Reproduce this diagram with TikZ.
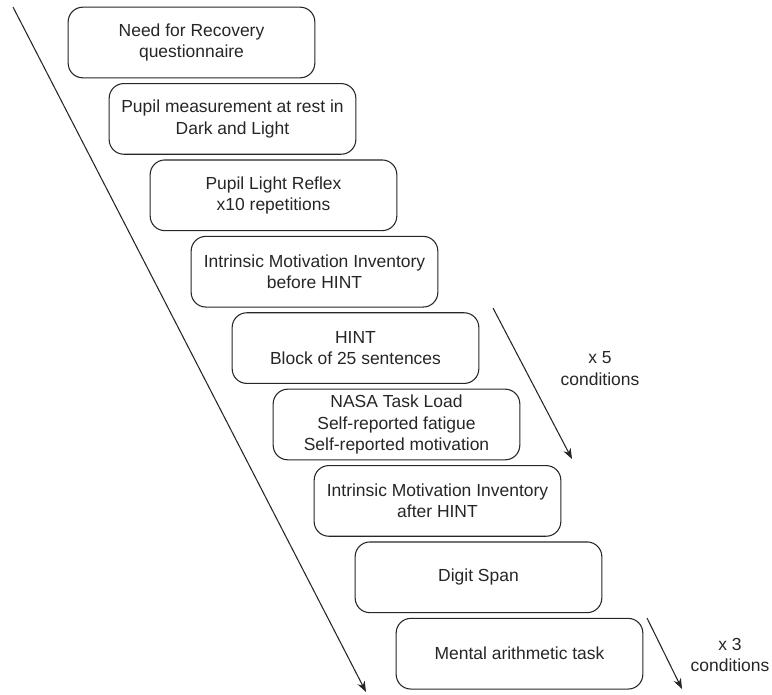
\documentclass[tikz,border=0pt]{standalone}
\usepackage{fontspec}
\setmainfont{Liberation Sans}
\usetikzlibrary{arrows.meta}

\tikzset{
  paso/.style={draw=black!85, line width=0.8pt, rounded corners=11pt,
    minimum width=185pt, minimum height=53pt, inner sep=0pt, align=center,
    text=black!85, font=\fontsize{13.1}{16.1}\selectfont},
  flecha/.style={draw=black!85, line width=0.8pt, -{Stealth[length=8pt,width=6pt]}},
  nota/.style={align=center, text=black!85, font=\fontsize{13.1}{16.1}\selectfont}
}

\begin{document}
\begin{tikzpicture}[x=0.75pt, y=-0.75pt]

    \useasboundingbox (0,0) rectangle (772,694);

    % pasos del protocolo
    \node[paso] (recovery) at (191.5,42.5) {Need for Recovery\\questionnaire};
    \node[paso] (restpupil) at (232.5,118.9) {Pupil measurement at rest in\\Dark and Light};
    \node[paso] (plr) at (273.5,195.3) {Pupil Light Reflex\\x10 repetitions};
    \node[paso] (imibefore) at (314.5,271.7) {Intrinsic Motivation Inventory\\before HINT};
    \node[paso] (hint) at (355.5,348.1) {HINT\\Block of 25 sentences};
    \node[paso] (nasa) at (396.5,424.5) {NASA Task Load\\Self-reported fatigue\\Self-reported motivation};
    \node[paso] (imiafter) at (437.5,500.9) {Intrinsic Motivation Inventory\\after HINT};
    \node[paso] (digitspan) at (478.5,577.3) {Digit Span};
    \node[paso] (mental) at (519.5,653.7) {Mental arithmetic task};

    % linea de tiempo
    \coordinate (tinicio) at (13,7);
    \coordinate (tfin) at (366,692);
    \draw[flecha] (tinicio) -- (tfin);

    % repeticion HINT
    \coordinate (hinicio) at (493,308);
    \coordinate (hfin) at (572,459);
    \draw[flecha] (hinicio) -- (hfin);
    \node[nota] (cinco) at (600,368.5) {x 5\\conditions};

    % repeticion aritmetica
    \coordinate (minicio) at (647,618);
    \coordinate (mfin) at (682,689);
    \draw[flecha] (minicio) -- (mfin);
    \node[nota] (tres) at (730,655) {x 3\\conditions};

\end{tikzpicture}
\end{document}
